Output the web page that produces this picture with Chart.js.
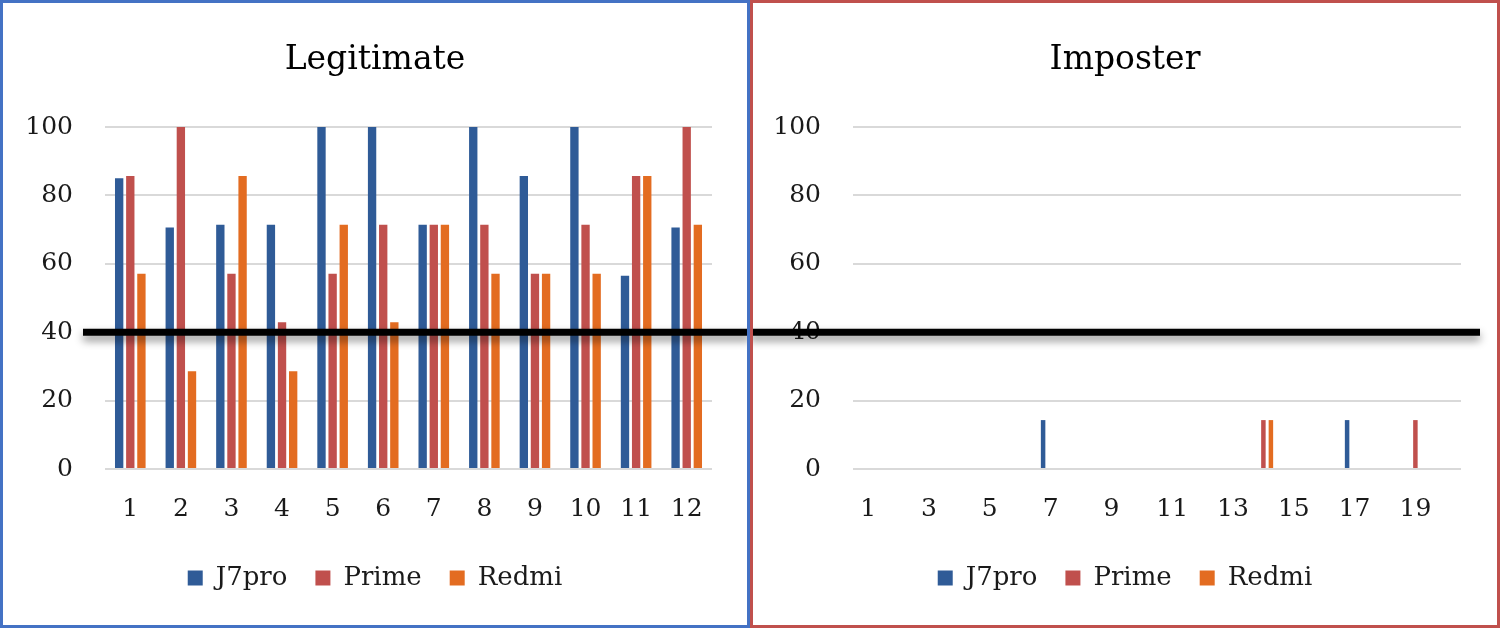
<!DOCTYPE html>
<html>
<head>
<meta charset="utf-8">
<script src="https://cdn.jsdelivr.net/npm/chart.js@4.4.1/dist/chart.umd.min.js"></script>
<style>
  html, body { margin: 0; padding: 0; background: #fff; }
  .panel { position: absolute; top: 0; width: 750px; height: 628px; }
  .panel canvas { position: absolute; left: 0; top: 0; }
  .frame { position: absolute; left: 0; top: 0; width: 750px; height: 628px; box-sizing: border-box; border: 3px solid; pointer-events: none; }
</style>
</head>
<body>
<div class="panel" style="left:0">
  <canvas id="legitChart" width="750" height="628"></canvas>
  <div class="frame" style="border-color:#4472C4"></div>
</div>
<div class="panel" style="left:750px">
  <canvas id="imposterChart" width="750" height="628"></canvas>
  <div class="frame" style="border-color:#C0504D"></div>
</div>
<script>
// data
const legitLabels = ['1', '2', '3', '4', '5', '6', '7', '8', '9', '10', '11', '12'];
const legitJ7pro = [85, 70.6, 71.4, 71.4, 100, 100, 71.4, 100, 85.7, 100, 56.5, 70.6];
const legitPrime = [85.7, 100, 57.1, 42.9, 57.1, 71.4, 71.4, 71.4, 57.1, 71.4, 85.7, 100];
const legitRedmi = [57.1, 28.6, 85.7, 28.6, 71.4, 42.9, 71.4, 57.1, 57.1, 57.1, 85.7, 71.4];

const impLabels = ['1', '2', '3', '4', '5', '6', '7', '8', '9', '10', '11', '12', '13', '14', '15', '16', '17', '18', '19', '20'];
const impJ7pro = [0, 0, 0, 0, 0, 0, 14.3, 0, 0, 0, 0, 0, 0, 0, 0, 0, 14.3, 0, 0, 0];
const impPrime = [0, 0, 0, 0, 0, 0, 0, 0, 0, 0, 0, 0, 0, 14.3, 0, 0, 0, 0, 14.3, 0];
const impRedmi = [0, 0, 0, 0, 0, 0, 0, 0, 0, 0, 0, 0, 0, 14.3, 0, 0, 0, 0, 0, 0];

const threshold = 40;

const colors = { j7pro: '#2F5B97', prime: '#C0504D', redmi: '#E36C21' };

Chart.defaults.font.family = '"DejaVu Serif", serif';
Chart.defaults.color = '#1a1a1a';

// thick black threshold line with a soft shadow
const thresholdLine = {
    id: 'thresholdLine',
    afterDatasetsDraw(chart, args, opts) {
        const y = chart.scales.y.getPixelForValue(threshold);
        const ctx = chart.ctx;
        ctx.save();
        ctx.shadowColor = 'rgba(0,0,0,0.45)';
        ctx.shadowBlur = 8;
        ctx.shadowOffsetY = 5;
        ctx.strokeStyle = '#000';
        ctx.lineWidth = 7;
        ctx.beginPath();
        ctx.moveTo(opts.from, y);
        ctx.lineTo(opts.to, y);
        ctx.stroke();
        ctx.restore();
    }
};

function makeOptions(title, lineFrom, lineTo, xTickCallback) {
    return {
        responsive: false,
        animation: false,
        layout: { padding: { top: 41, bottom: 27, left: 0, right: 0 } },
        plugins: {
            title: {
                display: true,
                text: title,
                color: '#000',
                font: { size: 33, weight: 'normal' },
                padding: { top: 0, bottom: 46.4 }
            },
            legend: {
                position: 'bottom',
                labels: { boxWidth: 15, boxHeight: 15, padding: 28, font: { size: 26 } }
            },
            tooltip: { enabled: false },
            thresholdLine: { from: lineFrom, to: lineTo }
        },
        scales: {
            x: {
                grid: { display: false },
                border: { display: false },
                ticks: { padding: 17, font: { size: 25 }, autoSkip: false, maxRotation: 0, callback: xTickCallback },
                afterFit(s) { s.height = 68; }
            },
            y: {
                min: 0,
                max: 100,
                grid: { color: '#D9D9D9', lineWidth: 2, drawTicks: false },
                border: { display: false },
                ticks: { stepSize: 20, padding: 32, font: { size: 25 } },
                afterFit(s) { s.width = 105; }
            },
            y2: {
                position: 'right',
                grid: { display: false },
                border: { display: false },
                ticks: { display: false },
                afterFit(s) { s.width = 38; }
            }
        }
    };
}

function datasets(j7, prime, redmi, barPct, catPct) {
    return [
        { label: 'J7pro', data: j7, backgroundColor: colors.j7pro, barPercentage: barPct, categoryPercentage: catPct },
        { label: 'Prime', data: prime, backgroundColor: colors.prime, barPercentage: barPct, categoryPercentage: catPct },
        { label: 'Redmi', data: redmi, backgroundColor: colors.redmi, barPercentage: barPct, categoryPercentage: catPct }
    ];
}

// Legitimate
new Chart(document.getElementById('legitChart').getContext('2d'), {
    type: 'bar',
    data: { labels: legitLabels, datasets: datasets(legitJ7pro, legitPrime, legitRedmi, 0.75, 0.66) },
    options: makeOptions('Legitimate', 83, 750, function (v, i) { return this.getLabelForValue(v); }),
    plugins: [thresholdLine]
});

// Imposter
const impOptions = makeOptions('Imposter', 0, 730, function (v, i) { return i % 2 === 0 ? this.getLabelForValue(v) : ''; });
impOptions.scales.y.afterFit = function (s) { s.width = 103; };
impOptions.scales.y2.afterFit = function (s) { s.width = 39; };
new Chart(document.getElementById('imposterChart').getContext('2d'), {
    type: 'bar',
    data: { labels: impLabels, datasets: datasets(impJ7pro, impPrime, impRedmi, 0.6, 0.74) },
    options: impOptions,
    plugins: [thresholdLine]
});
</script>
</body>
</html>
